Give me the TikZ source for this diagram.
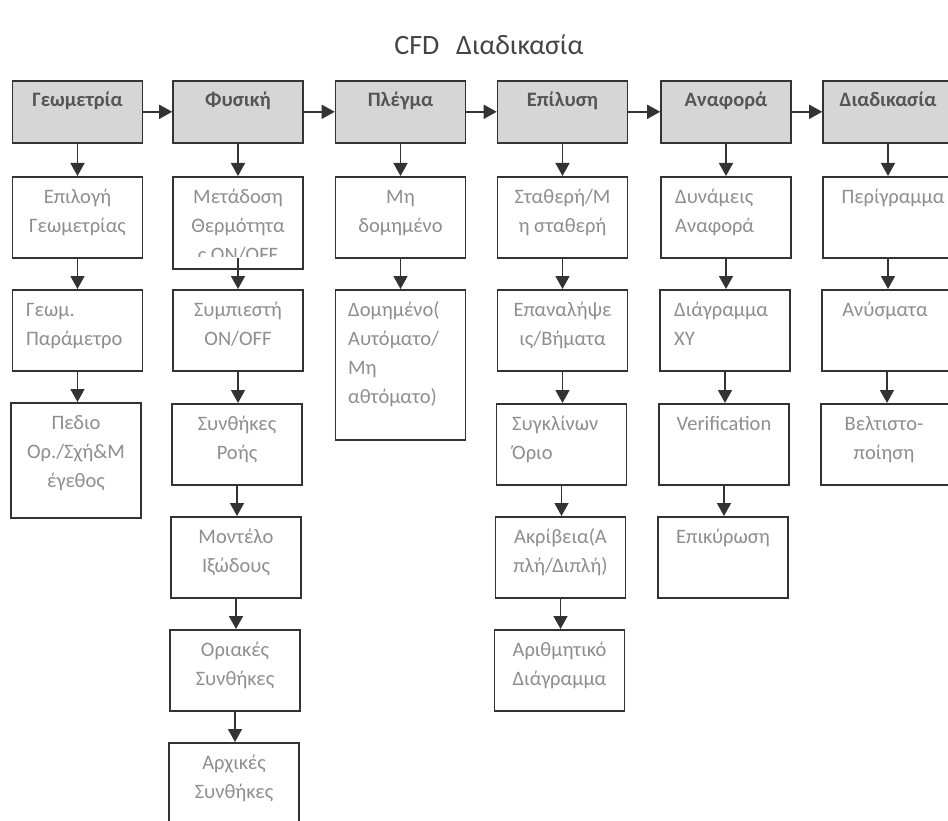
\documentclass[tikz,border=0pt]{standalone}
\usepackage{fontspec}
\setmainfont{Carlito}
\usetikzlibrary{arrows.meta}
\definecolor{boxline}{HTML}{333333}
\definecolor{hdrfill}{HTML}{D6D6D6}
\definecolor{hdrtext}{HTML}{555555}
\definecolor{subtext}{HTML}{8E8E8E}
\definecolor{titletext}{HTML}{444444}
\newcommand\subfont{\fontsize{20.5}{29}\selectfont}
\newcommand\fl{\rule{0pt}{17pt}}
\tikzset{
  hdrbox/.style={draw=boxline, line width=1.6pt, fill=hdrfill, minimum width=130pt, minimum height=62pt, inner sep=0pt, anchor=north},
  subbox/.style={draw=boxline, line width=1.6pt, fill=white, minimum width=130pt, minimum height=81pt, inner sep=0pt, anchor=north},
  hdrtxt/.style={font=\fontsize{20.5}{24}\selectfont\bfseries, text=hdrtext, anchor=base, inner sep=0pt},
  subtxt/.style={font=\subfont, text=subtext, align=center, anchor=north, inner sep=0pt},
  subtxtl/.style={font=\subfont, text=subtext, align=left, anchor=north west, inner sep=0pt},
  arr/.style={draw=boxline, line width=1.6pt, -{Triangle[width=14pt,length=13pt]}}
}
\begin{document}
\begin{tikzpicture}[x=1pt,y=-1pt]
\clip (0,0) rectangle (948,821);
\fill[white] (0,0) rectangle (948,821);
% title
\node[font=\fontsize{28}{32}\selectfont, text=titletext, anchor=base, inner sep=0pt] (title) at (489,55) {CFD\hspace{0.6em}Διαδικασία};
% headers
\node[hdrbox] (h1) at (77.5,80) {};
\node[hdrbox] (h2) at (238,80) {};
\node[hdrbox] (h3) at (400.5,80) {};
\node[hdrbox] (h4) at (562.5,80) {};
\node[hdrbox] (h5) at (726,80) {};
\node[hdrbox] (h6) at (888,80) {};
\node[hdrtxt] (t1) at (77.5,107) {Γεωμετρία};
\node[hdrtxt] (t2) at (238,107) {Φυσική};
\node[hdrtxt] (t3) at (400.5,107) {Πλέγμα};
\node[hdrtxt] (t4) at (562.5,107) {Επίλυση};
\node[hdrtxt] (t5) at (726,107) {Αναφορά};
\node[hdrtxt] (t6) at (888,107) {Διαδικασία};
\draw[arr] (h1.east) -- (h2.west);
\draw[arr] (h2.east) -- (h3.west);
\draw[arr] (h3.east) -- (h4.west);
\draw[arr] (h4.east) -- (h5.west);
\draw[arr] (h5.east) -- (h6.west);
% column 1
\node[subbox] (a1) at (77.5,176) {};
\node[subbox] (a2) at (77.5,289) {};
\node[subbox, minimum height=115pt] (a3) at (76,402) {};
\node[subtxt] (a1t) at (77.5,186) {\fl Επιλογή\\Γεωμετρίας};
\node[subtxtl] (a2t) at (26,299) {\fl Γεωμ.\\Παράμετρο};
\node[subtxt] (a3t) at (76,412) {\fl Πεδιο\\Ορ./Σχή\&Μ\\έγεθος};
\draw[arr] (h1.south) -- (h1.south |- a1.north);
\draw[arr] (a1.south) -- (a1.south |- a2.north);
\draw[arr] (a2.south) -- (a2.south |- a3.north);
% column 2
\node[subbox, minimum height=92pt] (b1) at (238,176) {};
\node[subbox] (b2) at (238,289) {};
\node[subbox] (b3) at (237,403) {};
\node[subbox] (b4) at (236,516) {};
\node[subbox] (b5) at (235,629) {};
\node[subbox] (b6) at (234,742) {};
\begin{scope}
\clip (175,178) rectangle (301,257);
\node[subtxt] (b1t) at (238,186) {\fl Μετάδοση\\Θερμότητα\\ς ON/OFF};
\end{scope}
\node[subtxt] (b2t) at (238,299) {\fl Συμπιεστή\\ON/OFF};
\node[subtxt] (b3t) at (237,413) {\fl Συνθήκες\\Ροής};
\node[subtxt] (b4t) at (236,526) {\fl Μοντέλο\\Ιξώδους};
\node[subtxt] (b5t) at (235,639) {\fl Οριακές\\Συνθήκες};
\node[subtxt] (b6t) at (234,752) {\fl Αρχικές\\Συνθήκες};
\draw[arr] (h2.south) -- (h2.south |- b1.north);
\draw[arr] ([yshift=12pt]b1.south) -- (b1.south |- b2.north);
\draw[arr] (b2.south) -- (b2.south |- b3.north);
\draw[arr] (b3.south) -- (b3.south |- b4.north);
\draw[arr] (b4.south) -- (b4.south |- b5.north);
\draw[arr] (b5.south) -- (b5.south |- b6.north);
% column 3
\node[subbox] (c1) at (400.5,176) {};
\node[subbox, minimum height=150pt] (c2) at (400.5,289) {};
\node[subtxt] (c1t) at (400.5,186) {\fl Μη\\δομημένο};
\node[subtxtl] (c2t) at (348,299) {\fl Δομημένο(\\Αυτόματο/\\Μη\\αθτόματο)};
\draw[arr] (h3.south) -- (h3.south |- c1.north);
\draw[arr] (c1.south) -- (c1.south |- c2.north);
% column 4
\node[subbox] (d1) at (562.5,176) {};
\node[subbox] (d2) at (562.5,289) {};
\node[subbox] (d3) at (561.5,403) {};
\node[subbox] (d4) at (560.5,516) {};
\node[subbox] (d5) at (559.5,629) {};
\node[subtxt] (d1t) at (562.5,186) {\fl Σταθερή/Μ\\η σταθερή};
\node[subtxt] (d2t) at (562.5,299) {\fl Επαναλήψε\\ις/Βήματα};
\node[subtxtl] (d3t) at (512,413) {\fl Συγκλίνων\\Όριο};
\node[subtxt] (d4t) at (560.5,526) {\fl Ακρίβεια(Α\\πλή/Διπλή)};
\node[subtxt] (d5t) at (559.5,639) {\fl Αριθμητικό\\Διάγραμμα};
\draw[arr] (h4.south) -- (h4.south |- d1.north);
\draw[arr] (d1.south) -- (d1.south |- d2.north);
\draw[arr] (d2.south) -- (d2.south |- d3.north);
\draw[arr] (d3.south) -- (d3.south |- d4.north);
\draw[arr] (d4.south) -- (d4.south |- d5.north);
% column 5
\node[subbox] (e1) at (726,176) {};
\node[subbox] (e2) at (725,289) {};
\node[subbox] (e3) at (724,403) {};
\node[subbox] (e4) at (723,516) {};
\node[subtxtl] (e1t) at (675,186) {\fl Δυνάμεις\\Αναφορά};
\node[subtxtl] (e2t) at (674,299) {\fl Διάγραμμα\\XY};
\node[subtxt] (e3t) at (724,413) {\fl Verification};
\node[subtxt] (e4t) at (723,526) {\fl Επικύρωση};
\draw[arr] (h5.south) -- (h5.south |- e1.north);
\draw[arr] (e1.south) -- (e1.south |- e2.north);
\draw[arr] (e2.south) -- (e2.south |- e3.north);
\draw[arr] (e3.south) -- (e3.south |- e4.north);
% column 6
\node[subbox] (f1) at (888,176) {};
\node[subbox] (f2) at (887,289) {};
\node[subbox] (f3) at (886,403) {};
\node[subtxt] (f1t) at (893,186) {\fl Περίγραμμα};
\node[subtxt] (f2t) at (885,299) {\fl Ανύσματα};
\node[subtxt] (f3t) at (884,413) {\fl Βελτιστο-\\ποίηση};
\draw[arr] (h6.south) -- (h6.south |- f1.north);
\draw[arr] (f1.south) -- (f1.south |- f2.north);
\draw[arr] (f2.south) -- (f2.south |- f3.north);
\end{tikzpicture}
\end{document}
